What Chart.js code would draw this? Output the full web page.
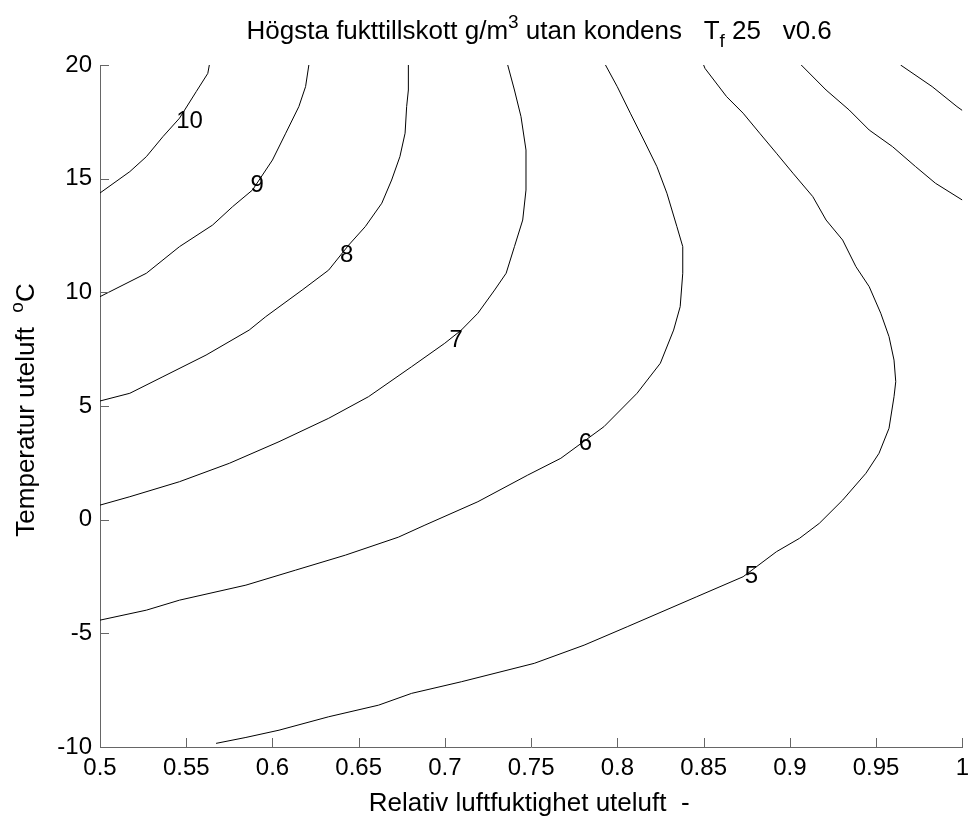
<!DOCTYPE html>
<html><head><meta charset="utf-8">
<script src="https://cdn.jsdelivr.net/npm/chart.js@4/dist/chart.umd.min.js"></script>
<style>html,body{margin:0;padding:0;background:#fff}#wrap{width:976px;height:820px;position:relative}</style>
</head><body><div id="wrap"><canvas id="c" width="976" height="820"></canvas></div>
<script>
// ---- data ----
const xTickValues = [0.5, 0.55, 0.6, 0.65, 0.7, 0.75, 0.8, 0.85, 0.9, 0.95, 1];
const yTickValues = [-10, -5, 0, 5, 10, 15, 20];

const rh10 = [0.5, 0.5173, 0.5269, 0.5365, 0.5461, 0.5558, 0.5625, 0.5634];
const t10  = [14.37, 15.31, 15.97, 16.85, 17.66, 18.83, 19.63, 20];

const rh9 = [0.5, 0.5269, 0.5461, 0.5653, 0.5769, 0.5884, 0.6, 0.6077, 0.6153, 0.6192, 0.6211];
const t9  = [9.81, 10.84, 12.01, 12.96, 13.77, 14.50, 15.82, 17.0, 18.17, 19.05, 20];

const rh8 = [0.5, 0.5173, 0.5365, 0.5615, 0.5865, 0.5961, 0.6172, 0.6326, 0.6442, 0.6538, 0.6634, 0.6691, 0.6739, 0.6769, 0.6778, 0.6788, 0.6788];
const t8  = [5.22, 5.56, 6.29, 7.24, 8.34, 8.93, 10.10, 10.98, 12.08, 12.89, 13.92, 14.94, 15.97, 17.0, 18.17, 18.9, 20];

const rh7 = [0.5, 0.5173, 0.5461, 0.575, 0.6038, 0.6326, 0.6557, 0.6807, 0.6999, 0.7095, 0.7191, 0.7288, 0.7355, 0.7403, 0.7451, 0.747, 0.747, 0.7441, 0.7403, 0.7364];
const t7  = [0.64, 1.01, 1.67, 2.48, 3.43, 4.46, 5.41, 6.73, 7.76, 8.34, 9.08, 10.10, 10.84, 12.01, 13.18, 14.50, 16.26, 17.73, 18.90, 20];

const rh6 = [0.5, 0.5269, 0.5461, 0.5846, 0.6134, 0.6423, 0.673, 0.6884, 0.7191, 0.748, 0.7672, 0.7922, 0.8114, 0.8249, 0.8326, 0.8364, 0.8379, 0.8379, 0.8345, 0.8287, 0.8229, 0.8153, 0.8075, 0.7999, 0.7931];
const t6  = [-4.42, -3.98, -3.54, -2.88, -2.22, -1.56, -0.77, -0.24, 0.79, 1.96, 2.70, 4.09, 5.56, 6.88, 8.34, 9.37, 10.84, 12.01, 12.89, 14.36, 15.53, 16.70, 17.88, 19.05, 20];

const rh5 = [0.5673, 0.5846, 0.6038, 0.6326, 0.6615, 0.6807, 0.7095, 0.7518, 0.7807, 0.8057, 0.846, 0.8729, 0.8922, 0.9056, 0.9171, 0.9306, 0.9441, 0.9517, 0.9575, 0.9604, 0.9614, 0.9604, 0.9575, 0.9527, 0.946, 0.9383, 0.9306, 0.921, 0.9133, 0.9018, 0.8922, 0.8825, 0.8729, 0.8633, 0.8508, 0.85];
const t5  = [-9.84, -9.58, -9.26, -8.67, -8.16, -7.64, -7.13, -6.32, -5.52, -4.71, -3.39, -2.51, -1.41, -0.82, -0.16, 0.86, 2.04, 2.92, 4.02, 5.41, 6.07, 7.02, 8.05, 9.08, 10.25, 11.13, 12.30, 13.18, 14.21, 15.24, 16.12, 17.0, 17.88, 18.61, 19.85, 20];

const rh4 = [0.9066, 0.921, 0.9344, 0.946, 0.9595, 0.9729, 0.9844, 1.0];
const t4  = [20, 18.90, 18.02, 17.14, 16.41, 15.53, 14.80, 14.06];

const rh3 = [0.9642, 0.9825, 0.9969, 1.0];
const t3  = [20, 19.05, 18.17, 18.0];

const labelText = ['10', '9', '8', '7', '6', '5'];
const labelRh   = [0.5519, 0.5911, 0.643, 0.7065, 0.7814, 0.8777];
const labelT    = [17.5, 14.72, 11.64, 7.9, 3.37, -2.48];

const titleParts = [['Högsta fukttillskott g/m', 0], ['3', 1], [' utan kondens   T', 0], ['f', -1], [' 25   v0.6', 0]];
const xTitle = 'Relativ luftfuktighet uteluft  -';
const yTitleParts = [['Temperatur uteluft  ', 0], ['o', 1], ['C', 0]];

// ---- build datasets ----
const series = [[rh10, t10], [rh9, t9], [rh8, t8], [rh7, t7], [rh6, t6], [rh5, t5], [rh4, t4], [rh3, t3]];
const datasets = series.map(([xs, ys]) => ({
  data: xs.map((x, i) => ({x: x, y: ys[i]})),
  showLine: true, borderColor: '#000', borderWidth: 1, pointRadius: 0, fill: false, tension: 0
}));

const FONT = '"Liberation Sans", Arial, sans-serif';
const TICK_PX = 24, LABEL_PX = 26;

function drawRich(ctx, parts, size, cx, baseline) {
  const small = Math.round(size * 0.72);
  let total = 0;
  parts.forEach(([t, m]) => { ctx.font = (m ? small : size) + 'px ' + FONT; total += ctx.measureText(t).width; });
  let x = cx - total / 2;
  parts.forEach(([t, m]) => {
    ctx.font = (m ? small : size) + 'px ' + FONT;
    const dy = m === 1 ? -size * 0.42 : (m === -1 ? size * 0.3 : 0);
    ctx.fillText(t, x, baseline + dy);
    x += ctx.measureText(t).width;
  });
}

const decor = {
  id: 'decor',
  afterDraw(chart) {
    const ctx = chart.ctx, a = chart.chartArea, xs = chart.scales.x, ys = chart.scales.y;
    ctx.save();
    // inward tick marks
    ctx.strokeStyle = '#666'; ctx.lineWidth = 1;
    ctx.beginPath();
    xTickValues.forEach(v => { const p = Math.round(xs.getPixelForValue(v)) + 0.5; ctx.moveTo(p, a.bottom); ctx.lineTo(p, a.bottom - 9); });
    yTickValues.forEach(v => { const p = Math.round(ys.getPixelForValue(v)) + 0.5; ctx.moveTo(a.left, p); ctx.lineTo(a.left + 9, p); });
    ctx.stroke();
    // contour labels
    ctx.fillStyle = '#000';
    ctx.font = TICK_PX + 'px ' + FONT;
    ctx.textAlign = 'center'; ctx.textBaseline = 'middle';
    labelText.forEach((t, i) => ctx.fillText(t, xs.getPixelForValue(labelRh[i]), ys.getPixelForValue(labelT[i])));
    // titles
    ctx.textAlign = 'left'; ctx.textBaseline = 'alphabetic';
    const cx = (a.left + a.right) / 2;
    drawRich(ctx, titleParts, LABEL_PX, cx + 8, 39);
    ctx.textAlign = 'center';
    ctx.font = LABEL_PX + 'px ' + FONT;
    ctx.fillText(xTitle, cx - 2, 811);
    ctx.textAlign = 'left';
    ctx.translate(34, 410);
    ctx.rotate(-Math.PI / 2);
    drawRich(ctx, yTitleParts, LABEL_PX, 0, 0);
    ctx.restore();
  }
};

new Chart(document.getElementById('c'), {
  type: 'scatter',
  data: {datasets},
  options: {
    responsive: false, animation: false, devicePixelRatio: 1,
    layout: {padding: {top: 65, right: 9, left: 0, bottom: 0}},
    plugins: {legend: {display: false}, tooltip: {enabled: false}, title: {display: false}},
    scales: {
      x: {
        type: 'linear', min: 0.5, max: 1,
        afterBuildTicks: s => { s.ticks = xTickValues.map(v => ({value: v})); },
        afterFit: s => { s.height = 73; },
        ticks: {callback: v => String(v), color: '#000', font: {family: FONT, size: TICK_PX}, padding: 7, maxRotation: 0, autoSkip: false},
        grid: {display: false, drawTicks: false},
        border: {display: true, color: '#666', width: 1}
      },
      y: {
        type: 'linear', min: -10, max: 20,
        afterBuildTicks: s => { s.ticks = yTickValues.map(v => ({value: v})); },
        afterFit: s => { s.width = 100; },
        ticks: {callback: v => String(v), color: '#000', font: {family: FONT, size: TICK_PX}, padding: 8, autoSkip: false},
        grid: {display: false, drawTicks: false},
        border: {display: true, color: '#666', width: 1}
      }
    }
  },
  plugins: [decor]
});
</script>
</body></html>
